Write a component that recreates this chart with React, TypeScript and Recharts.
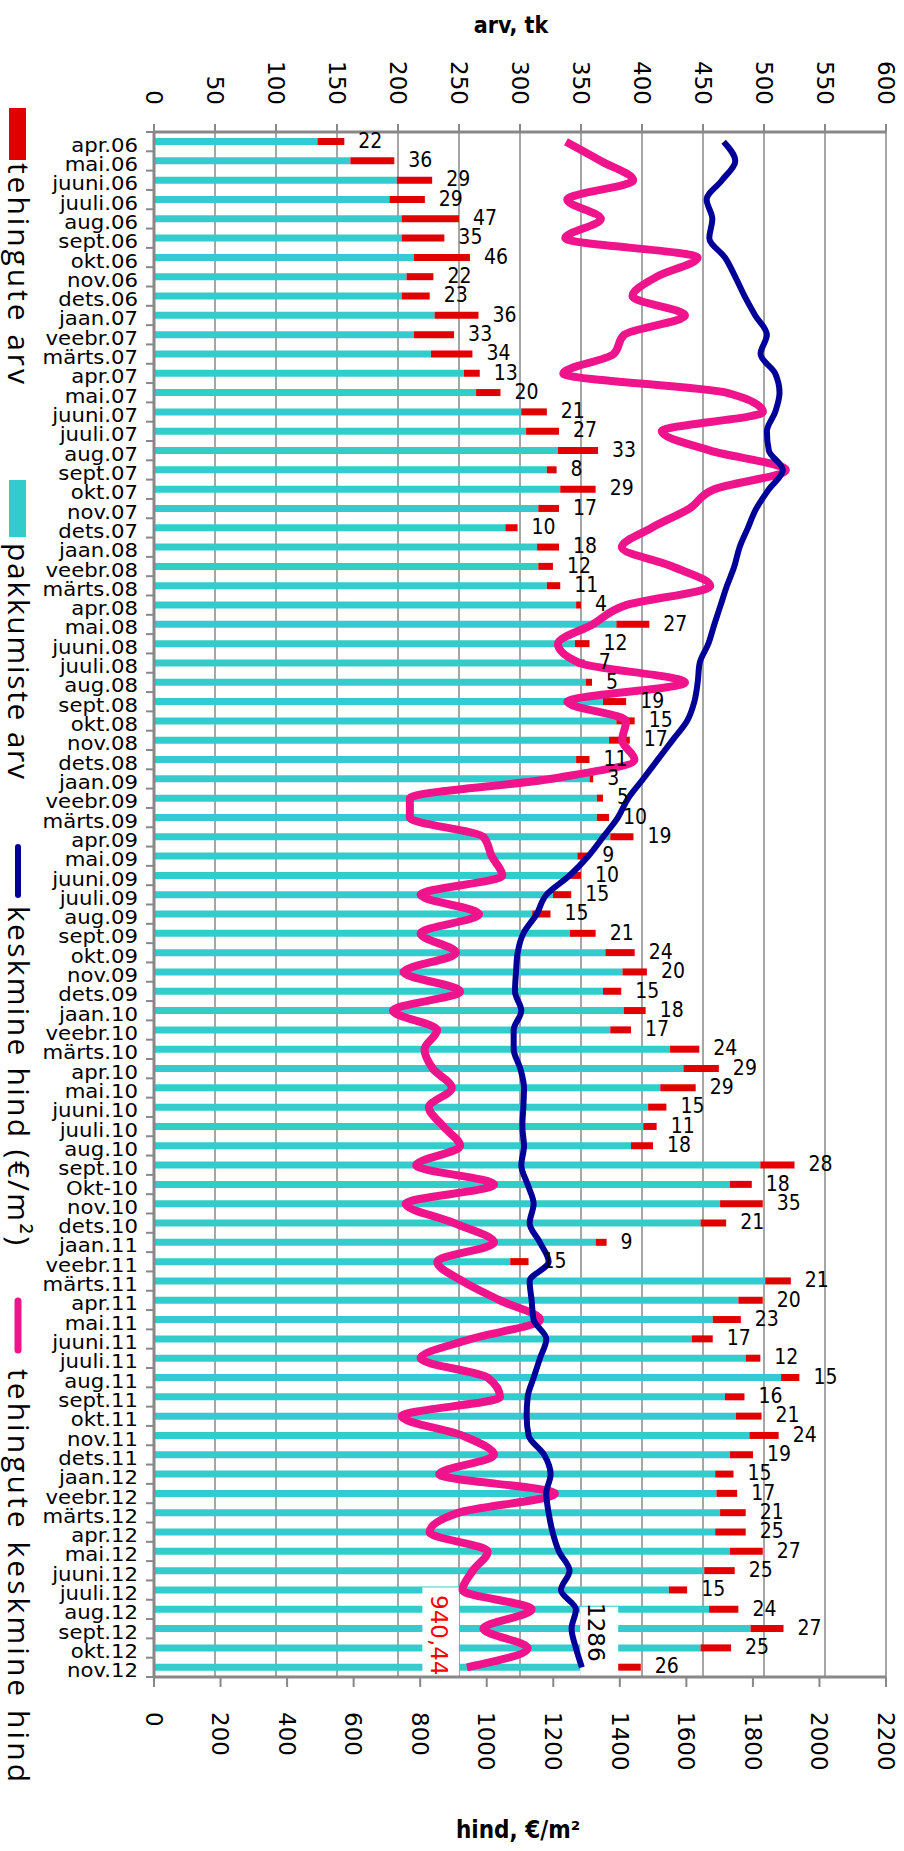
import React from "react"
import { ComposedChart, Bar, Line, XAxis, YAxis, CartesianGrid, LabelList, ReferenceArea } from "recharts"

const months = [
  "apr.06", "mai.06", "juuni.06", "juuli.06", "aug.06", "sept.06", "okt.06", "nov.06", "dets.06",
  "jaan.07", "veebr.07", "märts.07", "apr.07", "mai.07", "juuni.07", "juuli.07", "aug.07", "sept.07", "okt.07", "nov.07", "dets.07",
  "jaan.08", "veebr.08", "märts.08", "apr.08", "mai.08", "juuni.08", "juuli.08", "aug.08", "sept.08", "okt.08", "nov.08", "dets.08",
  "jaan.09", "veebr.09", "märts.09", "apr.09", "mai.09", "juuni.09", "juuli.09", "aug.09", "sept.09", "okt.09", "nov.09", "dets.09",
  "jaan.10", "veebr.10", "märts.10", "apr.10", "mai.10", "juuni.10", "juuli.10", "aug.10", "sept.10", "Okt-10", "nov.10", "dets.10",
  "jaan.11", "veebr.11", "märts.11", "apr.11", "mai.11", "juuni.11", "juuli.11", "aug.11", "sept.11", "okt.11", "nov.11", "dets.11",
  "jaan.12", "veebr.12", "märts.12", "apr.12", "mai.12", "juuni.12", "juuli.12", "aug.12", "sept.12", "okt.12", "nov.12",
]

// pakkumiste arv (offers), tk
const offers = [
  134, 161, 199, 193, 203, 203, 213, 207, 203,
  230, 213, 227, 254, 264, 301, 305, 331, 322, 333, 315, 288,
  314, 315, 322, 346, 379, 345, 346, 354, 368, 379, 373, 346,
  357, 363, 363, 374, 347, 340, 327, 310, 341, 370, 384, 368,
  385, 374, 423, 434, 415, 405, 401, 391, 497, 472, 464, 448,
  362, 292, 501, 479, 458, 441, 485, 514, 468, 477, 488, 472,
  460, 461, 464, 460, 472, 451, 422, 455, 489, 448, 373,
]

// tehingute arv (transactions), tk
const deals = [
  22, 36, 29, 29, 47, 35, 46, 22, 23,
  36, 33, 34, 13, 20, 21, 27, 33, 8, 29, 17, 10,
  18, 12, 11, 4, 27, 12, 7, 5, 19, 15, 17, 11,
  3, 5, 10, 19, 9, 10, 15, 15, 21, 24, 20, 15,
  18, 17, 24, 29, 29, 15, 11, 18, 28, 18, 35, 21,
  9, 15, 21, 20, 23, 17, 12, 15, 16, 21, 24, 19,
  15, 17, 21, 25, 27, 25, 15, 24, 27, 25, 26,
]

// keskmine hind, €/m2
const avgPrice = [
  1712, 1747, 1707, 1661, 1678, 1669, 1716, 1747, 1775,
  1807, 1842, 1823, 1867, 1880, 1867, 1842, 1848, 1890, 1848, 1810, 1785,
  1760, 1744, 1722, 1703, 1684, 1666, 1640, 1634, 1624, 1602, 1558, 1514,
  1470, 1425, 1394, 1350, 1305, 1249, 1179, 1150, 1110, 1093, 1088, 1085,
  1104, 1081, 1081, 1101, 1112, 1110, 1107, 1112, 1104, 1123, 1141, 1129,
  1160, 1186, 1129, 1135, 1141, 1179, 1160, 1141, 1123, 1120, 1126, 1173,
  1192, 1179, 1186, 1198, 1217, 1249, 1223, 1268, 1255, 1268, 1286,
]

// tehingute keskmine hind, €/m2
const dealPrice = [
  1238, 1343, 1440, 1242, 1343, 1236, 1634, 1510, 1438,
  1596, 1413, 1381, 1230, 1720, 1830, 1526, 1672, 1899, 1684, 1609, 1495,
  1406, 1558, 1672, 1419, 1318, 1214, 1280, 1596, 1242, 1419, 1407, 1444,
  1190, 769, 769, 990, 1015, 1047, 801, 977, 801, 908, 750, 920,
  718, 851, 813, 838, 895, 826, 870, 920, 788, 1022, 756, 902,
  1022, 851, 927, 1040, 1160, 952, 801, 1003, 1040, 744, 927, 1022,
  857, 1205, 914, 828, 1003, 958, 927, 1135, 990, 1123, 940.44,
]

const countTicks = [0, 50, 100, 150, 200, 250, 300, 350, 400, 450, 500, 550, 600]
const priceTicks = [0, 200, 400, 600, 800, 1000, 1200, 1400, 1600, 1800, 2000, 2200]

const data = months.map((month, i) => ({
  month,
  offers: offers[i],
  deals: deals[i],
  price: avgPrice[i],
  dealPrice: dealPrice[i],
}))

const W = 904
const H = 1851
const PLOT_TOP = 132
const PLOT_BOTTOM = 1677
const PLOT_LEFT = 154
const BAND = (PLOT_BOTTOM - PLOT_TOP) / months.length
const GRAY = "#888888"
const NARROW = "'DejaVu Sans Condensed', 'DejaVu Sans', sans-serif"
const WIDE = "'DejaVu Sans', sans-serif"
const LEGEND_FONT = "'Open Sans', 'DejaVu Sans', sans-serif"

// month labels: a bit widened so they read like the squat original font
const MonthTick = ({ y, payload, index }: any) => (
  <g>
    <line x1={PLOT_LEFT - 8} x2={PLOT_LEFT} y1={y - BAND / 2} y2={y - BAND / 2} stroke={GRAY} strokeWidth={2} />
    {index === months.length - 1 && (
      <line x1={PLOT_LEFT - 8} x2={PLOT_LEFT} y1={y + BAND / 2} y2={y + BAND / 2} stroke={GRAY} strokeWidth={2} />
    )}
    <text
      transform={`translate(138,${y + 10}) scale(1.18,1)`}
      textAnchor="end"
      fontSize={20}
      fontFamily={NARROW}
      fill="#000"
    >
      {payload.value}
    </text>
  </g>
)

const CountTick = ({ x, payload }: any) => (
  <g>
    <line x1={x} x2={x} y1={PLOT_TOP - 8} y2={PLOT_TOP} stroke={GRAY} strokeWidth={2} />
    <text transform={`translate(${x},105) rotate(90)`} textAnchor="end" dy="0.36em" fontSize={23} fontFamily={WIDE} fill="#000">
      {payload.value}
    </text>
  </g>
)

const PriceTick = ({ x, payload }: any) => (
  <g>
    <line x1={x} x2={x} y1={PLOT_BOTTOM} y2={PLOT_BOTTOM + 10} stroke={GRAY} strokeWidth={2} />
    <text transform={`translate(${x},1712) rotate(90)`} textAnchor="start" dy="0.36em" fontSize={23} fontFamily={WIDE} fill="#000">
      {payload.value}
    </text>
  </g>
)

const DealLabel = (props: any) => {
  const { x, y, width, height, value } = props
  return (
    <text x={x + width + 14} y={y + height / 2} dy="0.3em" fontSize={21} fontFamily={NARROW} fill="#000">
      {value}
    </text>
  )
}

// white note boxes over the bars (start a little below the band top)
const NoteBox = (props: any) => (
  <rect x={props.x} y={props.y + 7} width={props.width} height={props.height - 7} fill="#ffffff" />
)

const legendText = (label: string, y: number, len: number) => (
  <text
    transform={`translate(8,${y}) rotate(90)`}
    fontSize={30}
    fontFamily={LEGEND_FONT}
    textLength={len}
    lengthAdjust="spacing"
    fill="#000"
  >
    {label}
  </text>
)

export default function App() {
  return (
    <div style={{ position: "relative", width: W, height: H, background: "#fff" }}>
      <style>{"body{margin:0}"}</style>
      <ComposedChart
        width={W}
        height={H}
        data={data}
        layout="vertical"
        margin={{ top: 32, right: 18, bottom: 74, left: 0 }}
      >
        <CartesianGrid xAxisId="top" horizontal={false} stroke={GRAY} strokeWidth={1.5} />
        <XAxis
          xAxisId="top"
          orientation="top"
          type="number"
          domain={[0, 600]}
          ticks={countTicks}
          height={100}
          axisLine={{ stroke: GRAY, strokeWidth: 3 }}
          tickLine={false}
          tick={<CountTick />}
          interval={0}
        />
        <XAxis
          xAxisId="bottom"
          orientation="bottom"
          type="number"
          domain={[0, 2200]}
          ticks={priceTicks}
          height={100}
          axisLine={{ stroke: GRAY, strokeWidth: 3 }}
          tickLine={false}
          tick={<PriceTick />}
          interval={0}
        />
        <YAxis
          type="category"
          dataKey="month"
          width={154}
          interval={0}
          axisLine={{ stroke: GRAY, strokeWidth: 3 }}
          tickLine={false}
          tick={<MonthTick />}
        />
        <Bar dataKey="offers" xAxisId="top" stackId="a" fill="#33CCCC" barSize={7} isAnimationActive={false} />
        <Bar dataKey="deals" xAxisId="top" stackId="a" fill="#E00000" barSize={7} isAnimationActive={false}>
          <LabelList dataKey="deals" content={<DealLabel />} />
        </Bar>
        <ReferenceArea xAxisId="top" x1={220} x2={250} y1="juuli.12" y2="nov.12" ifOverflow="visible" shape={<NoteBox />} zIndex={350} />
        <ReferenceArea xAxisId="top" x1={349.4} x2={380.5} y1="aug.12" y2="nov.12" ifOverflow="visible" shape={<NoteBox />} zIndex={350} />
        <Line
          dataKey="dealPrice"
          xAxisId="bottom"
          type="monotone"
          stroke="#F0148C"
          strokeWidth={8}
          dot={false}
          isAnimationActive={false}
        />
        <Line
          dataKey="price"
          xAxisId="bottom"
          type="monotone"
          stroke="#000099"
          strokeWidth={6}
          dot={false}
          isAnimationActive={false}
        />
      </ComposedChart>

      <svg width={W} height={H} style={{ position: "absolute", left: 0, top: 0, pointerEvents: "none" }}>
        <text x={511} y={33} textAnchor="middle" fontSize={23} fontWeight="bold" fontFamily={NARROW} fill="#000">
          arv, tk
        </text>
        <text x={518} y={1838} textAnchor="middle" fontSize={24} fontWeight="bold" fontFamily={NARROW} fill="#000">
          hind, €/m²
        </text>

        <rect x={9} y={108} width={17} height={52} fill="#E00000" />
        {legendText("tehingute arv", 163, 221)}
        <rect x={9} y={480} width={17} height={57} fill="#33CCCC" />
        {legendText("pakkumiste arv", 543, 236)}
        <line x1={18} x2={18} y1={847} y2={895} stroke="#000099" strokeWidth={6} strokeLinecap="round" />
        {legendText("keskmine hind (€/m²)", 906, 339)}
        <line x1={18} x2={18} y1={1301} y2={1350} stroke="#F0148C" strokeWidth={7} strokeLinecap="round" />
        {legendText("tehingute keskmine hind", 1369, 413)}

        <text transform="translate(431,1595) rotate(90)" fontSize={23} fontFamily={WIDE} fill="#FF0000">
          940,44
        </text>
        <text transform="translate(588,1603) rotate(90)" fontSize={23} fontFamily={WIDE} fill="#000">
          1286
        </text>
      </svg>
    </div>
  )
}
